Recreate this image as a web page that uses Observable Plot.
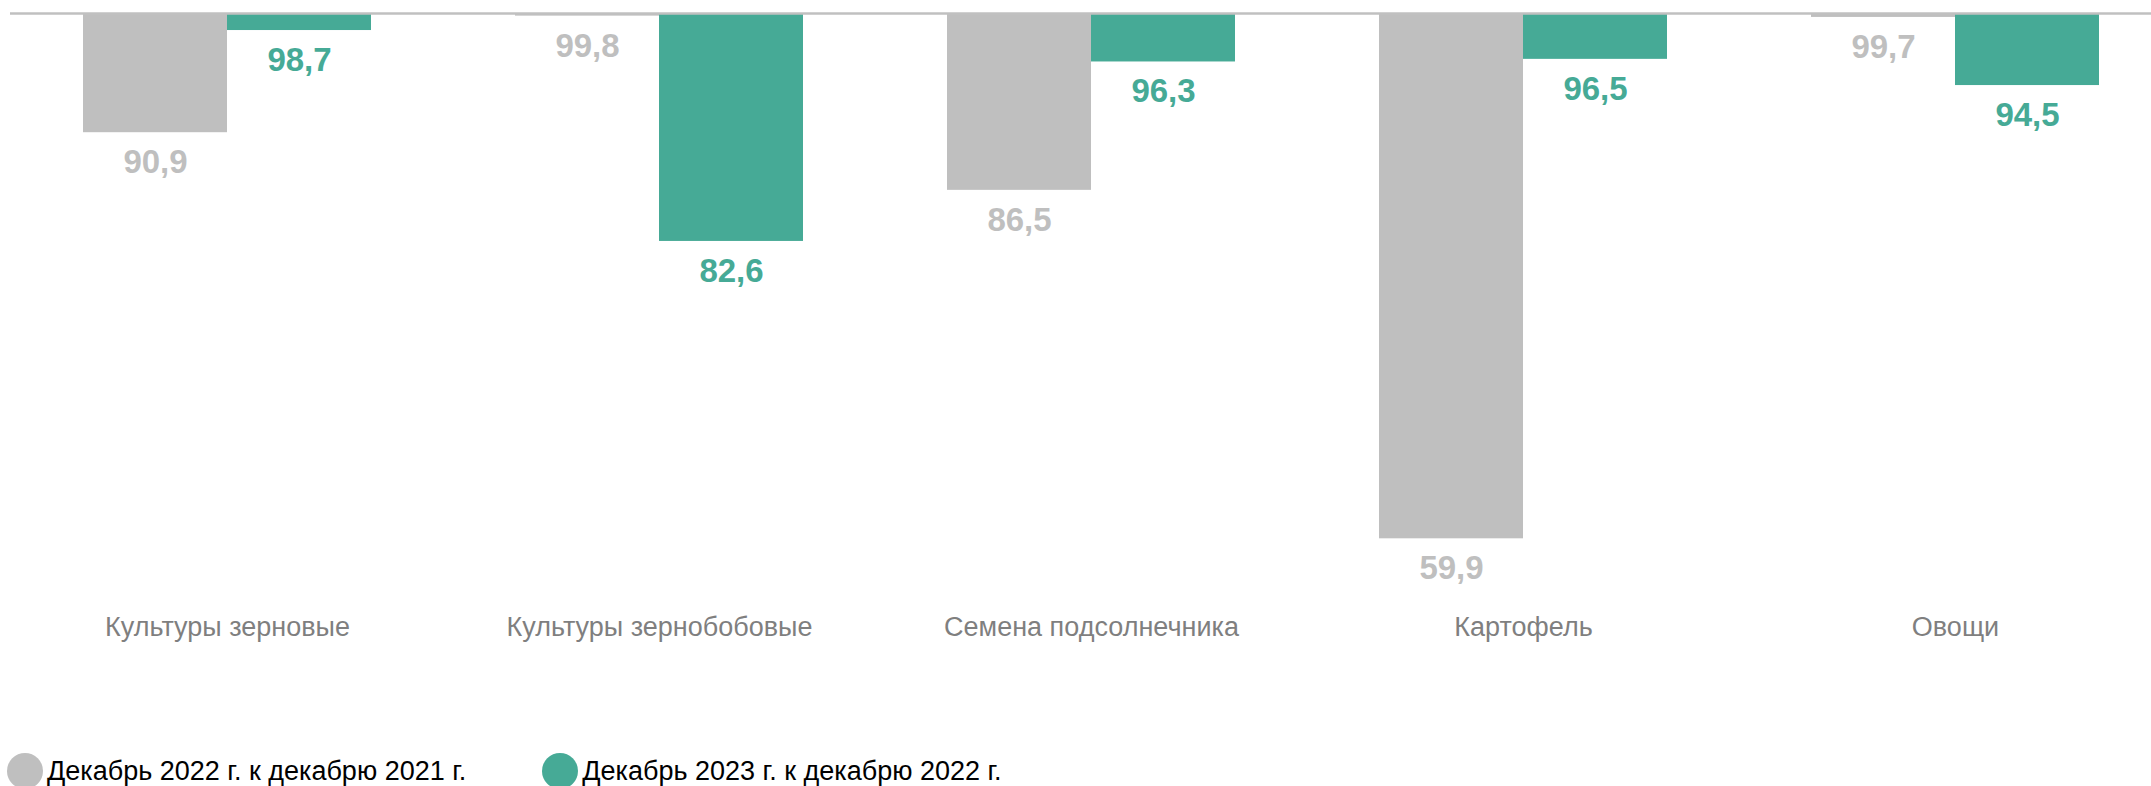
<!DOCTYPE html>
<html>
<head>
<meta charset="utf-8">
<script src="https://cdn.jsdelivr.net/npm/d3@7"></script>
<script src="https://cdn.jsdelivr.net/npm/@observablehq/plot@0.6"></script>
<style>
  html, body { margin: 0; padding: 0; background: #fff; overflow: hidden; width: 2151px; height: 786px; }
  #chart svg { display: block; }
  .legend { display: flex; align-items: center; margin-top: 53px; padding-left: 7px; font-family: "Liberation Sans", Arial, sans-serif; font-size: 27px; color: #000; gap: 76px; }
  .legend .item { display: flex; align-items: center; gap: 4px; white-space: nowrap; }
  .legend .sw { width: 36px; height: 36px; border-radius: 50%; display: inline-block; }
</style>
</head>
<body>
<div id="chart"></div>
<div class="legend" id="legend"></div>
<script>
const categories = ["Культуры зерновые", "Культуры зернобобовые", "Семена подсолнечника", "Картофель", "Овощи"];
const seriesNames = ["Декабрь 2022 г. к декабрю 2021 г.", "Декабрь 2023 г. к декабрю 2022 г."];
const values2022 = [90.9, 99.8, 86.5, 59.9, 99.7];
const values2023 = [98.7, 82.6, 96.3, 96.5, 94.5];
const seriesColors = ["#bfbfbf", "#46aa96"];
const baseValue = 100;

const fmt = v => v.toFixed(1).replace(".", ",");
const data2022 = categories.map((c, i) => ({category: c, value: values2022[i]}));
const data2023 = categories.map((c, i) => ({category: c, value: values2023[i]}));

const xOpts = {type: "band", domain: categories, range: [11, 2171], paddingInner: 1/3, paddingOuter: 1/6, round: false};
const xs = Plot.scale({x: xOpts});
const half = xs.bandwidth / 2;

const chart = Plot.plot({
  width: 2151,
  height: 700,
  marginTop: 0,
  marginLeft: 10,
  marginRight: 0,
  marginBottom: 100,
  style: {fontFamily: "'Liberation Sans', Arial, sans-serif", fontSize: "27px", color: "#7f7f7f", background: "#fff"},
  x: {...xOpts, axis: "bottom", tickSize: 0, tickPadding: 16, label: null},
  y: {domain: [100, 50], range: [13, 668], axis: null},
  marks: [
    Plot.barY(data2022, {x: "category", y1: baseValue, y2: "value", fill: seriesColors[0], insetRight: half}),
    Plot.barY(data2023, {x: "category", y1: baseValue, y2: "value", fill: seriesColors[1], insetLeft: half}),
    Plot.ruleY([baseValue], {stroke: "#c0c0c0", strokeWidth: 2.5}),
    Plot.text(data2022, {x: "category", y: "value", text: d => fmt(d.value), dx: -half / 2, dy: 17, lineAnchor: "top", fill: seriesColors[0], fontSize: 33, fontWeight: "bold"}),
    Plot.text(data2023, {x: "category", y: "value", text: d => fmt(d.value), dx: half / 2, dy: 17, lineAnchor: "top", fill: seriesColors[1], fontSize: 33, fontWeight: "bold"})
  ]
});
document.getElementById("chart").appendChild(chart);

const legend = document.getElementById("legend");
seriesNames.forEach((name, i) => {
  const item = document.createElement("div");
  item.className = "item";
  const sw = document.createElement("span");
  sw.className = "sw";
  sw.style.background = seriesColors[i];
  const label = document.createElement("span");
  label.textContent = name;
  item.appendChild(sw);
  item.appendChild(label);
  legend.appendChild(item);
});
</script>
</body>
</html>
